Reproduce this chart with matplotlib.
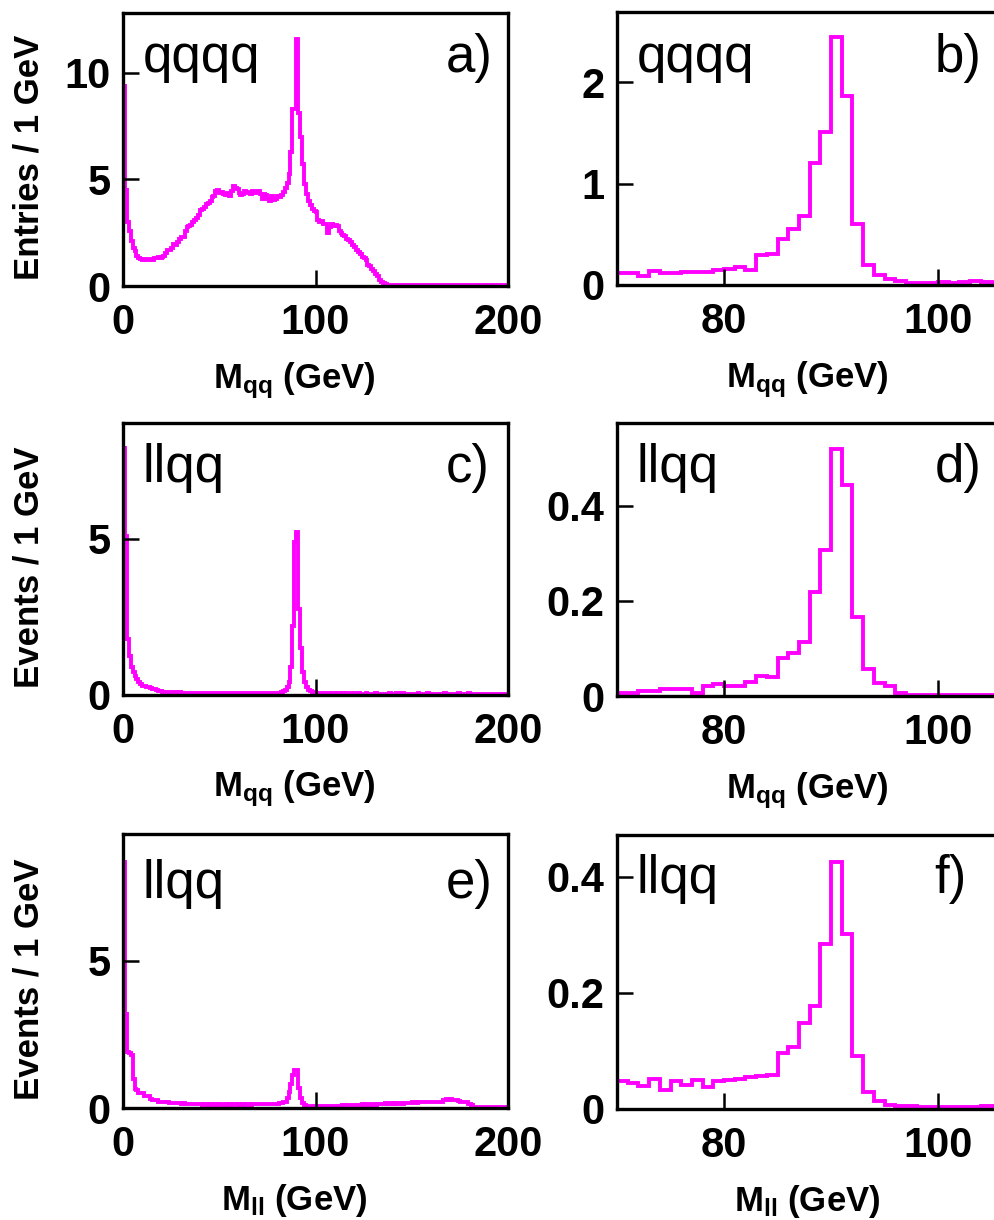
import numpy as np
import matplotlib.pyplot as plt

plt.rcParams['font.family'] = ['Liberation Sans', 'DejaVu Sans']
plt.rcParams['mathtext.fontset'] = 'custom'
plt.rcParams['mathtext.rm'] = 'Liberation Sans:bold'
plt.rcParams['mathtext.it'] = 'Liberation Sans:bold'
plt.rcParams['mathtext.bf'] = 'Liberation Sans:bold'

MAGENTA = '#ff00ff'

# full range spectra, 1 GeV bins from 0 to 200
qqqq_mqq = [
    9.4, 4.5, 3.0, 2.6, 2.1, 1.8, 1.65, 1.4, 1.3, 1.25,
    1.2, 1.25, 1.2, 1.2, 1.25, 1.2, 1.3, 1.3, 1.35, 1.3,
    1.35, 1.4, 1.55, 1.7, 1.7, 1.8, 1.95, 1.9, 2.05, 2.2,
    2.3, 2.3, 2.6, 2.75, 2.8, 2.85, 3.0, 3.1, 3.2, 3.35,
    3.55, 3.6, 3.7, 3.85, 3.9, 4.0, 4.15, 4.2, 4.45, 4.5,
    4.35, 4.4, 4.3, 4.25, 4.35, 4.2, 4.45, 4.7, 4.6, 4.55,
    4.35, 4.25, 4.3, 4.45, 4.4, 4.35, 4.3, 4.45, 4.35, 4.4,
    4.45, 4.3, 4.1, 4.3, 4.25, 4.1, 4.0, 4.2, 4.05, 4.1,
    4.2, 4.15, 4.25, 4.4, 4.6, 4.85, 5.25, 6.3, 8.3, 8.3,
    11.6, 8.1, 7.0, 5.7, 4.8, 4.3, 4.0, 3.8, 3.6, 3.5,
    3.45, 3.1, 3.0, 3.05, 2.9, 2.9, 2.5, 2.75, 2.9, 2.8,
    2.85, 2.8, 2.6, 2.5, 2.4, 2.35, 2.2, 2.15, 2.05, 1.9,
    1.85, 1.7, 1.6, 1.5, 1.35, 1.3, 1.2, 1.0, 0.95, 0.8,
    0.7, 0.55, 0.45, 0.3, 0.2, 0.12, 0.08, 0.06, 0.06, 0.06,
    0.05, 0.06, 0.05, 0.05, 0.06, 0.05, 0.05, 0.05, 0.04, 0.05,
    0.05, 0.04, 0.04, 0.05, 0.04, 0.04, 0.04, 0.05, 0.04, 0.04,
    0.04, 0.04, 0.03, 0.04, 0.04, 0.03, 0.04, 0.03, 0.03, 0.04,
    0.03, 0.03, 0.03, 0.04, 0.03, 0.03, 0.03, 0.03, 0.03, 0.03,
    0.03, 0.03, 0.03, 0.03, 0.02, 0.03, 0.03, 0.03, 0.02, 0.03,
    0.03, 0.02, 0.03, 0.03, 0.02, 0.03, 0.02, 0.03, 0.03, 0.03,
]

llqq_mqq = [
    7.9, 5.1, 1.8, 1.25, 0.9, 0.75, 0.6, 0.5, 0.4, 0.35,
    0.3, 0.28, 0.25, 0.25, 0.22, 0.2, 0.2, 0.15, 0.13, 0.12,
    0.11, 0.1, 0.1, 0.09, 0.1, 0.08, 0.09, 0.08, 0.07, 0.08,
    0.07, 0.07, 0.06, 0.07, 0.06, 0.07, 0.06, 0.06, 0.05, 0.06,
    0.06, 0.05, 0.06, 0.05, 0.05, 0.06, 0.05, 0.05, 0.06, 0.05,
    0.05, 0.05, 0.06, 0.05, 0.05, 0.05, 0.06, 0.05, 0.05, 0.05,
    0.06, 0.05, 0.05, 0.05, 0.06, 0.05, 0.05, 0.07, 0.05, 0.05,
    0.05, 0.06, 0.05, 0.06, 0.05, 0.06, 0.06, 0.07, 0.06, 0.07,
    0.07, 0.07, 0.09, 0.12, 0.16, 0.25, 0.4, 0.9, 2.2, 4.9,
    5.2, 2.75, 1.5, 0.75, 0.4, 0.25, 0.15, 0.12, 0.1, 0.08,
    0.06, 0.05, 0.06, 0.05, 0.05, 0.05, 0.05, 0.04, 0.05, 0.05,
    0.04, 0.05, 0.05, 0.04, 0.05, 0.04, 0.05, 0.04, 0.04, 0.05,
    0.04, 0.04, 0.05, 0.04, 0.04, 0.04, 0.05, 0.04, 0.04, 0.04,
    0.04, 0.05, 0.04, 0.04, 0.04, 0.04, 0.04, 0.04, 0.05, 0.04,
    0.04, 0.04, 0.05, 0.06, 0.07, 0.05, 0.04, 0.04, 0.04, 0.04,
    0.04, 0.04, 0.04, 0.05, 0.04, 0.04, 0.04, 0.04, 0.05, 0.04,
    0.04, 0.04, 0.04, 0.04, 0.04, 0.04, 0.04, 0.05, 0.04, 0.04,
    0.04, 0.04, 0.04, 0.04, 0.05, 0.04, 0.04, 0.04, 0.04, 0.05,
    0.04, 0.04, 0.04, 0.04, 0.04, 0.04, 0.04, 0.04, 0.04, 0.04,
    0.04, 0.04, 0.04, 0.04, 0.04, 0.04, 0.04, 0.04, 0.04, 0.04,
]

llqq_mll = [
    8.35, 3.2, 1.9, 1.85, 1.8, 1.0, 0.65, 0.6, 0.5, 0.5,
    0.5, 0.4, 0.4, 0.4, 0.3, 0.28, 0.28, 0.27, 0.22, 0.22,
    0.22, 0.21, 0.22, 0.2, 0.17, 0.17, 0.18, 0.17, 0.16, 0.17,
    0.15, 0.16, 0.15, 0.13, 0.14, 0.13, 0.12, 0.13, 0.12, 0.13,
    0.12, 0.11, 0.12, 0.12, 0.11, 0.12, 0.11, 0.1, 0.12, 0.11,
    0.12, 0.11, 0.11, 0.13, 0.11, 0.12, 0.11, 0.12, 0.13, 0.11,
    0.12, 0.11, 0.13, 0.11, 0.12, 0.12, 0.11, 0.12, 0.13, 0.12,
    0.12, 0.13, 0.12, 0.13, 0.14, 0.13, 0.13, 0.15, 0.14, 0.15,
    0.15, 0.16, 0.18, 0.2, 0.22, 0.34, 0.56, 0.8, 1.13, 1.3,
    1.3, 0.68, 0.34, 0.17, 0.09, 0.06, 0.05, 0.05, 0.06, 0.06,
    0.07, 0.07, 0.06, 0.07, 0.07, 0.08, 0.07, 0.07, 0.08, 0.07,
    0.08, 0.07, 0.08, 0.08, 0.1, 0.09, 0.1, 0.11, 0.1, 0.1,
    0.11, 0.1, 0.11, 0.1, 0.12, 0.1, 0.11, 0.12, 0.11, 0.1,
    0.12, 0.11, 0.14, 0.15, 0.14, 0.15, 0.16, 0.14, 0.15, 0.17,
    0.15, 0.16, 0.15, 0.17, 0.16, 0.15, 0.17, 0.16, 0.18, 0.16,
    0.19, 0.2, 0.18, 0.2, 0.21, 0.19, 0.2, 0.22, 0.2, 0.19,
    0.21, 0.2, 0.22, 0.2, 0.21, 0.2, 0.27, 0.28, 0.3, 0.28,
    0.29, 0.28, 0.26, 0.27, 0.23, 0.22, 0.21, 0.22, 0.2, 0.13,
    0.12, 0.11, 0.03, 0.02, 0.02, 0.02, 0.02, 0.02, 0.02, 0.02,
    0.02, 0.02, 0.02, 0.02, 0.02, 0.02, 0.02, 0.02, 0.02, 0.02,
]

# zoomed peak region, 1 GeV bins from 70 to 106
qqqq_mqq_zoom = [
    0.115, 0.115, 0.09, 0.14, 0.12, 0.12, 0.13, 0.13, 0.13, 0.15,
    0.16, 0.18, 0.15, 0.30, 0.31, 0.45, 0.55, 0.68, 1.20, 1.51,
    2.44, 1.86, 0.60, 0.20, 0.10, 0.06, 0.035, 0.02, 0.02, 0.02,
    0.025, 0.02, 0.025, 0.035, 0.03, 0.02,
]
llqq_mqq_zoom = [
    0.007, 0.007, 0.011, 0.011, 0.015, 0.015, 0.015, 0.007, 0.021, 0.025,
    0.020, 0.022, 0.030, 0.042, 0.040, 0.080, 0.090, 0.113, 0.218, 0.308,
    0.520, 0.443, 0.166, 0.056, 0.028, 0.020, 0.006, 0.003, 0.003, 0.002,
    0.002, 0.002, 0.002, 0.002, 0.002, 0.002,
]
llqq_mll_zoom = [
    0.048, 0.045, 0.039, 0.052, 0.032, 0.049, 0.042, 0.050, 0.038, 0.048,
    0.050, 0.052, 0.055, 0.056, 0.059, 0.097, 0.106, 0.149, 0.177, 0.284,
    0.425, 0.301, 0.091, 0.029, 0.013, 0.007, 0.005, 0.006, 0.003, 0.003,
    0.003, 0.003, 0.003, 0.003, 0.005, 0.005,
]

full_edges = np.arange(0, 201, 1)
zoom_edges = np.arange(70, 107, 1)

W, H = 994, 1220
fig = plt.figure(figsize=(W / 100, H / 100), dpi=100)


def make_axes(left, top, right, bottom):
    return fig.add_axes([left / W, 1 - bottom / H, (right - left) / W, (bottom - top) / H])


panels = [
    # values, edges, box (px), xlim, ylim, yticks, yticklabels, xticks, tag, letter, letter x, text y, ylabel, xlabel
    (qqqq_mqq, full_edges, (123, 13, 508, 286), (0, 200), (0, 12.8), [0, 5, 10], ['0', '5', '10'],
     [0, 100, 200], 'qqqq', 'a)', 0.961, 0.784, 'Entries / 1 GeV', r'$\mathrm{M_{qq}}$ (GeV)'),
    (qqqq_mqq_zoom, zoom_edges, (617, 12, 1045, 285), (70, 110), (0, 2.69), [0, 1, 2], ['0', '1', '2'],
     [80, 100], 'qqqq', 'b)', 0.852, 0.78, None, r'$\mathrm{M_{qq}}$ (GeV)'),
    (llqq_mqq, full_edges, (123, 423, 508, 695), (0, 200), (0, 8.7), [0, 5], ['0', '5'],
     [0, 100, 200], 'llqq', 'c)', 0.953, 0.784, 'Events / 1 GeV', r'$\mathrm{M_{qq}}$ (GeV)'),
    (llqq_mqq_zoom, zoom_edges, (617, 423, 1045, 696), (70, 110), (0, 0.574), [0, 0.2, 0.4], ['0', '0.2', '0.4'],
     [80, 100], 'llqq', 'd)', 0.852, 0.785, None, r'$\mathrm{M_{qq}}$ (GeV)'),
    (llqq_mll, full_edges, (123, 834, 508, 1108), (0, 200), (0, 9.3), [0, 5], ['0', '5'],
     [0, 100, 200], 'llqq', 'e)', 0.961, 0.765, 'Events / 1 GeV', r'$\mathrm{M_{ll}}$ (GeV)'),
    (llqq_mll_zoom, zoom_edges, (617, 835, 1045, 1109), (70, 110), (0, 0.472), [0, 0.2, 0.4], ['0', '0.2', '0.4'],
     [80, 100], 'llqq', 'f)', 0.817, 0.787, None, r'$\mathrm{M_{ll}}$ (GeV)'),
]

for (vals, edges, box, xlim, ylim, yt, ytl, xt, tag, letter, lx, ty, ylab, xlab) in panels:
    ax = make_axes(*box)
    ax.stairs(vals, edges, color=MAGENTA, linewidth=2.8)
    ax.set_xlim(*xlim)
    ax.set_ylim(*ylim)
    ax.set_yticks(yt)
    ax.set_yticklabels(ytl)
    ax.set_xticks(xt)
    ax.set_xticklabels([str(v) for v in xt])
    ax.tick_params(direction='in', length=11.5, width=1.8, labelsize=30, top=False, right=False)
    ax.tick_params(axis='x', pad=12)
    ax.tick_params(axis='y', pad=9)
    for lab in ax.get_xticklabels() + ax.get_yticklabels():
        lab.set_fontweight('bold')
    for sp in ax.spines.values():
        sp.set_linewidth(2.4)

    wpx = box[2] - box[0]
    ax.text(20 / wpx, ty, tag, transform=ax.transAxes, fontsize=38, va='baseline', ha='left')
    ax.text(lx, ty, letter, transform=ax.transAxes, fontsize=38, va='baseline', ha='right')

    ax.set_xlabel(xlab, fontsize=25, fontweight='bold')
    ax.xaxis.set_label_coords(0.445, -0.27)
    if ylab:
        ax.set_ylabel(ylab, fontsize=25, fontweight='bold')
        ax.yaxis.set_label_coords(-0.2, 0.47)

fig.savefig('out.png', dpi=100)
